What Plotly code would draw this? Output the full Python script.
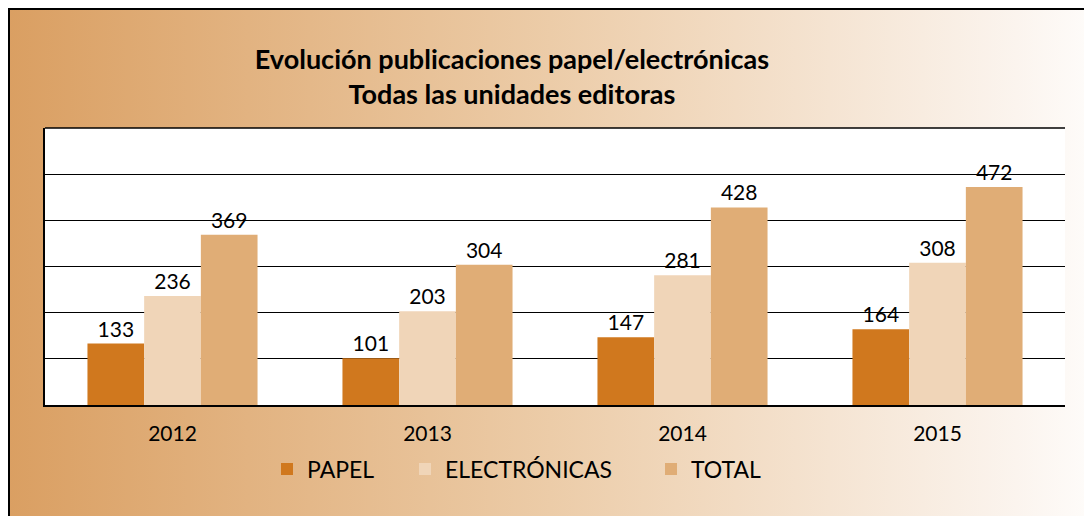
import base64
import plotly.graph_objects as go

years = ["2012", "2013", "2014", "2015"]
papel = [133, 101, 147, 164]
electronicas = [236, 203, 281, 308]
total = [369, 304, 428, 472]
series_names = ["PAPEL", "ELECTRÓNICAS", "TOTAL"]
series_colors = ["#D0781E", "#F0D5B8", "#E0AD76"]
title_lines = ["Evolución publicaciones papel/electrónicas", "Todas las unidades editoras"]

# The page body has an 8px margin, so the figure is 8px smaller and all
# page-pixel positions are shifted by OFF.
OFF = 8
W, H = 1092 - OFF, 516 - OFF
L, R, T, B = 45 - OFF, 1065 - OFF, 128 - OFF, 405 - OFF  # plot area (figure px)
FONT = "Lato, 'Open Sans', sans-serif"


def px_x(p):
    return (p - L) / (R - L)


def px_y(p):
    return (B - p) / (B - T)


svg = (
    '<svg xmlns="http://www.w3.org/2000/svg" width="100" height="100" preserveAspectRatio="none">'
    '<defs><linearGradient id="g" x1="0" y1="0" x2="1" y2="0">'
    '<stop offset="0" stop-color="#DA9F62"/>'
    '<stop offset="0.5" stop-color="#ECCCA8"/>'
    '<stop offset="0.93" stop-color="#FBF4EE"/>'
    '<stop offset="1" stop-color="#FEFCFA"/>'
    '</linearGradient></defs>'
    '<rect width="100" height="100" fill="url(#g)"/></svg>'
)
svg_uri = "data:image/svg+xml;base64," + base64.b64encode(svg.encode()).decode()

fig = go.Figure()
legend_ids = ["legend", "legend2", "legend3"]
for name, vals, col, lg in zip(series_names, [papel, electronicas, total], series_colors, legend_ids):
    fig.add_trace(go.Bar(
        x=years, y=vals, name=name, marker=dict(color=col, line=dict(width=0)),
        text=vals, textposition="outside", texttemplate="%{y}",
        textfont=dict(family=FONT, size=21, color="black"),
        cliponaxis=False, legend=lg, showlegend=True,
    ))

legend_text_x = [307 - OFF, 445 - OFF, 691 - OFF]  # where each legend label starts
legend_common = dict(
    orientation="h", xref="container", yref="container", xanchor="left", yanchor="middle",
    y=1 - (469 - OFF) / H, bgcolor="rgba(0,0,0,0)", font=dict(family=FONT, size=23, color="black"),
    visible=True,
)
legends = {}
for lg, tx in zip(legend_ids, legend_text_x):
    legends[lg] = dict(legend_common, x=(tx - 40) / W)

fig.update_layout(
    width=W, height=H, showlegend=True,
    margin=dict(l=L, r=W - R, t=T, b=H - B, autoexpand=False),
    paper_bgcolor="white", plot_bgcolor="white",
    font=dict(family=FONT, color="black"),
    title=dict(
        text="<br>".join(title_lines), x=(512 - OFF) / W, xanchor="center", xref="container",
        y=1 - (69 - OFF) / H, yanchor="middle", yref="container",
        font=dict(family=FONT, size=27, color="black", weight="bold"),
    ),
    bargap=0.333, bargroupgap=0,
    xaxis=dict(
        showline=True, linecolor="black", linewidth=1.5, ticks="outside", ticklen=9,
        tickcolor="rgba(0,0,0,0)",
        tickfont=dict(family=FONT, size=21, color="black"), showgrid=False,
    ),
    yaxis=dict(
        range=[0, 600], dtick=100, showgrid=True, gridcolor="black", gridwidth=1.3,
        showticklabels=False, showline=True, linecolor="black", linewidth=1.5,
        zeroline=False, ticks="",
    ),
    images=[dict(
        source=svg_uri, xref="paper", yref="paper",
        x=px_x(0), y=px_y(0), sizex=px_x(W) - px_x(0), sizey=px_y(0) - px_y(H),
        xanchor="left", yanchor="top", sizing="stretch", layer="below",
    )],
    shapes=[
        dict(type="rect", xref="paper", yref="paper", x0=0, x1=1, y0=0, y1=1,
             fillcolor="white", line=dict(width=0), layer="below"),
        dict(type="line", xref="paper", yref="paper", x0=px_x(0), x1=px_x(W), y0=px_y(1), y1=px_y(1),
             line=dict(color="black", width=2)),
        dict(type="line", xref="paper", yref="paper", x0=px_x(1), x1=px_x(1), y0=px_y(0), y1=px_y(H),
             line=dict(color="black", width=2)),
        dict(type="line", xref="paper", yref="paper", x0=0, x1=1, y0=1, y1=1,
             line=dict(color="black", width=1.3)),
    ],
    **legends,
)

fig.write_html("out.html")
